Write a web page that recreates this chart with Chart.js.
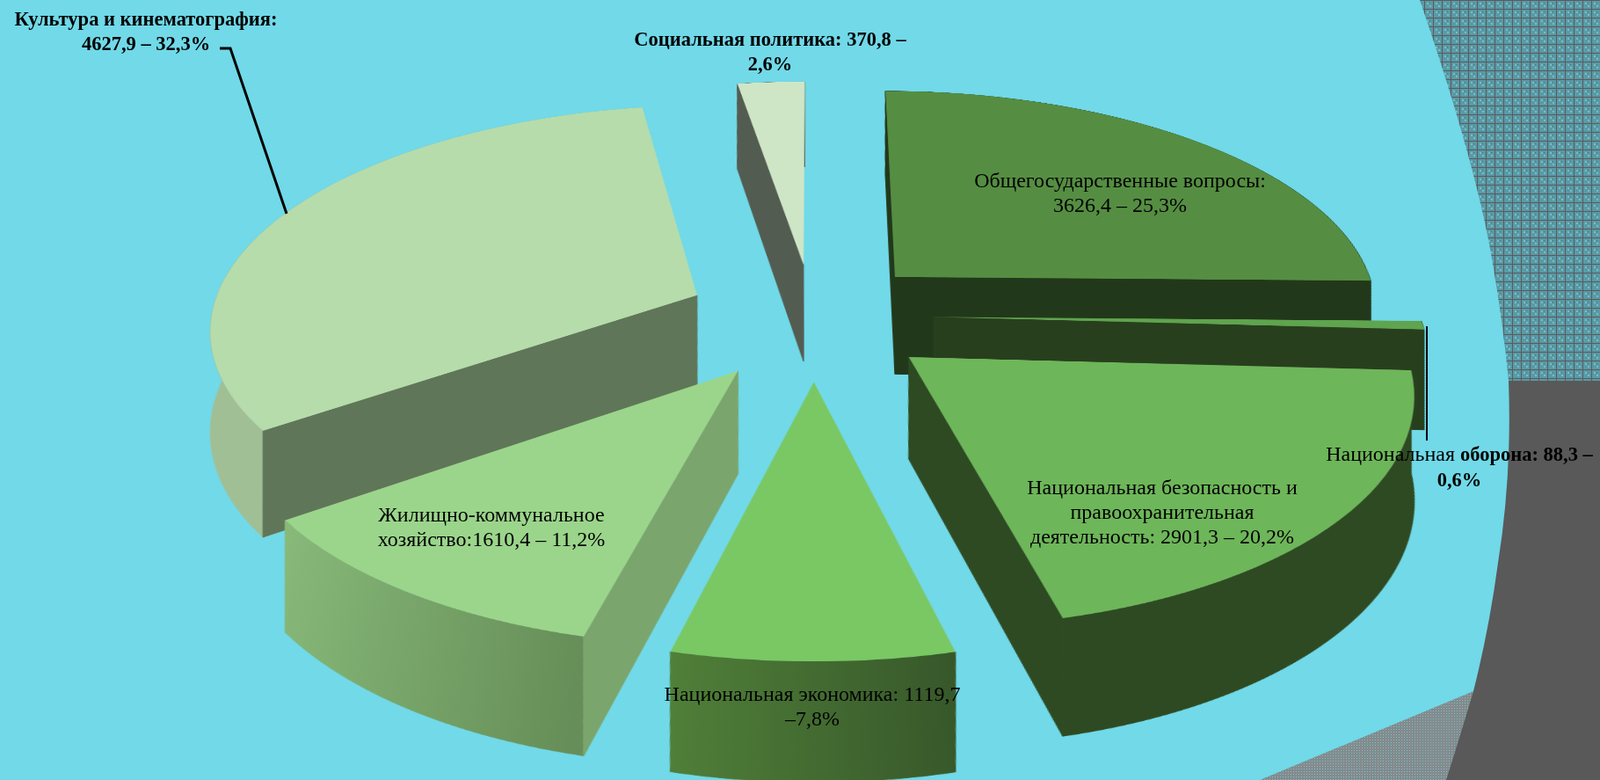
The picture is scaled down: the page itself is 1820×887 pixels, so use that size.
<!DOCTYPE html>
<html lang="ru">
<head>
<meta charset="utf-8">
<title>Расходы бюджета</title>
<script src="https://cdn.jsdelivr.net/npm/chart.js@4"></script>
<style>
  html, body { margin: 0; width: 1820px; height: 887px; overflow: hidden; background: #71d9e8; }
  #bg, #leaders { position: absolute; left: 0; top: 0; }
  #pie { position: absolute; }
  .label {
    position: absolute;
    transform: translateX(-50%);
    font-family: "Liberation Serif", serif;
    font-size: 24px;
    line-height: 28px;
    color: #000;
    text-align: center;
    white-space: nowrap;
  }
  .label.heavy, .label b { font-weight: bold; font-size: 22.5px; }
</style>
</head>
<body>
<svg id="bg" width="1820" height="887">
  <defs>
    <pattern id="weave" width="10" height="10" patternUnits="userSpaceOnUse">
      <rect width="10" height="10" fill="#5a9aa6"/>
      <rect width="10" height="1" fill="#5b5b5b"/>
      <rect width="1" height="10" fill="#5b5b5b"/>
      <rect x="3" y="3" width="2" height="2" fill="#6cc2ce"/>
      <rect x="6" y="6" width="2" height="2" fill="#6cc2ce"/>
      <rect x="6" y="3" width="1" height="1" fill="#4d6f76"/>
    </pattern>
    <pattern id="dots" width="3" height="3" patternUnits="userSpaceOnUse">
      <rect width="3" height="3" fill="#858a8c"/>
      <rect x="1" y="1" width="1" height="1" fill="#6fc6d2"/>
    </pattern>
  </defs>
  <path d="M1615,0 Q1680,190 1698,300 Q1710,370 1716,433 L1820,433 L1820,0 Z" fill="url(#weave)"/>
  <path d="M1676,786 L1433,887 L1660,887 Z" fill="url(#dots)"/>
  <path d="M1716,433 Q1720,540 1704,640 Q1694,715 1676,786 Q1660,840 1645,887 L1820,887 L1820,433 Z" fill="#595959"/>
</svg>
<canvas id="pie" width="2000" height="2000"></canvas>
<svg id="leaders" width="1820" height="887">
  <polyline points="250,55 262,55 326,243" fill="none" stroke="#000" stroke-width="3"/>
  <line x1="1623" y1="371" x2="1623" y2="501" stroke="#000" stroke-width="2"/>
</svg>
<div class="label heavy" style="left:166px;top:8px">Культура и кинематография:<br>4627,9 – 32,3%</div>
<div class="label heavy" style="left:876px;top:31px">Социальная политика: 370,8 –<br>2,6%</div>
<div class="label" style="left:1274px;top:191px">Общегосударственные вопросы:<br>3626,4 – 25,3%</div>
<div class="label" style="left:1322px;top:540px">Национальная безопасность и<br>правоохранительная<br>деятельность: 2901,3 – 20,2%</div>
<div class="label" style="left:1660px;top:502px">Национальная <b>оборона: 88,3 –</b><br><b>0,6%</b></div>
<div class="label" style="left:559px;top:571px">Жилищно-коммунальное<br>хозяйство:1610,4 – 11,2%</div>
<div class="label" style="left:924px;top:775px">Национальная экономика: 1119,7<br>–7,8%</div>
<script>
const categories = [
  "Общегосударственные вопросы",
  "Национальная оборона",
  "Национальная безопасность и правоохранительная деятельность",
  "Национальная экономика",
  "Жилищно-коммунальное хозяйство",
  "Культура и кинематография",
  "Социальная политика"
];
const amounts = [3626.4, 88.3, 2901.3, 1119.7, 1610.4, 4627.9, 370.8];

// styling per slice, same order as categories
const topColors = ["#558e42", "#5fa44e", "#6eb65a", "#79c864", "#9bd58b", "#b6dcab", "#cfe6c6"];
const outerWall = [
  ["#22381a", "#22381a"], ["#283f1e", "#283f1e"], ["#2e4a22", "#2e4a22"], ["#508039", "#37572a"],
  ["#88ba7a", "#668e58"], ["#a0bf94", "#a0bf94"], ["#535c50", "#535c50"]
];
const sideWall = ["#22381a", "#283f1e", "#2e4a22", "#37572a", "#7aa56d", "#607658", "#535c50"];
// how far each slice is pulled out of the pie. Not the arc's own offset option,
// that one also trims the angle of thin slices
const pullOut = [132, 136, 150, 166, 163, 142, 125];
const pullTurn = [0, 2, 6, 0, -3.5, -4, -1]; // degrees off the slice's middle
const paintOrder = [6, 0, 1, 2, 5, 4, 3];

const tilt = 63 * Math.PI / 180;
const persp = 3611;
const horizon = persp / Math.tan(tilt);
const wallHeight = 113;
const pieRadius = 552;
const centreX = 926, centreY = 356;

const canvas = document.getElementById("pie");
const half = canvas.width / 2;
canvas.style.left = (centreX - half) + "px";
canvas.style.top = (centreY - half) + "px";
canvas.style.transform = `perspective(${persp}px) rotateX(${tilt}rad)`;

// where a point straight below the given point of the tilted pie lands on the pie's plane
function dropPoint(px, py) {
  const x = px - half, y = py - half;
  const s = persp / (persp - y * Math.sin(tilt));
  const sx = x * s, sy = y * Math.cos(tilt) * s + wallHeight * s;
  const s2 = (sy + horizon) / horizon;
  return [sx / s2 + half, sy / (Math.cos(tilt) * s2) + half];
}

function fillPoly(ctx, pts, fill) {
  ctx.beginPath();
  pts.forEach((p, i) => (i ? ctx.lineTo(p[0], p[1]) : ctx.moveTo(p[0], p[1])));
  ctx.closePath();
  ctx.fillStyle = fill;
  ctx.strokeStyle = fill;
  ctx.lineWidth = 1;
  ctx.fill();
  ctx.stroke();
}

function drawSlice(ctx, arc, i) {
  const { x, y, startAngle, endAngle, outerRadius } = arc.getProps(["x", "y", "startAngle", "endAngle", "outerRadius"]);
  const mid = (startAngle + endAngle) / 2 + pullTurn[i] * Math.PI / 180;
  const dx = Math.cos(mid) * pullOut[i];
  const dy = Math.sin(mid) * pullOut[i];
  const ax = x + dx, ay = y + dy;
  const edge = (a) => [ax + outerRadius * Math.cos(a), ay + outerRadius * Math.sin(a)];

  const rim = [];
  const steps = 60;
  for (let k = 0; k <= steps; k++) rim.push(edge(startAngle + (endAngle - startAngle) * k / steps));
  const below = rim.map((p) => dropPoint(p[0], p[1])).reverse();
  const xs = rim.map((p) => p[0]);
  const grad = ctx.createLinearGradient(Math.min(...xs), 0, Math.max(...xs), 0);
  grad.addColorStop(0, outerWall[i][0]);
  grad.addColorStop(1, outerWall[i][1]);
  fillPoly(ctx, rim.concat(below), grad);

  const side = (a) => {
    const e = edge(a);
    fillPoly(ctx, [[ax, ay], e, dropPoint(e[0], e[1]), dropPoint(ax, ay)], sideWall[i]);
  };
  if (-Math.cos(startAngle) > -0.01) side(startAngle);
  if (Math.cos(endAngle) > 0.01) side(endAngle);

  ctx.save();
  ctx.translate(dx, dy);
  arc.draw(ctx);
  ctx.restore();
}

const extrude = {
  id: "extrude",
  beforeDatasetDraw(chart, args) {
    paintOrder.forEach((i) => drawSlice(chart.ctx, args.meta.data[i], i));
    return false;
  }
};

new Chart(canvas, {
  type: "pie",
  data: {
    labels: categories,
    datasets: [{
      data: amounts,
      backgroundColor: topColors,
      borderWidth: 0
    }]
  },
  options: {
    responsive: false,
    animation: false,
    radius: pieRadius,
    plugins: { legend: { display: false }, tooltip: { enabled: false } }
  },
  plugins: [extrude]
});
</script>
</body>
</html>
